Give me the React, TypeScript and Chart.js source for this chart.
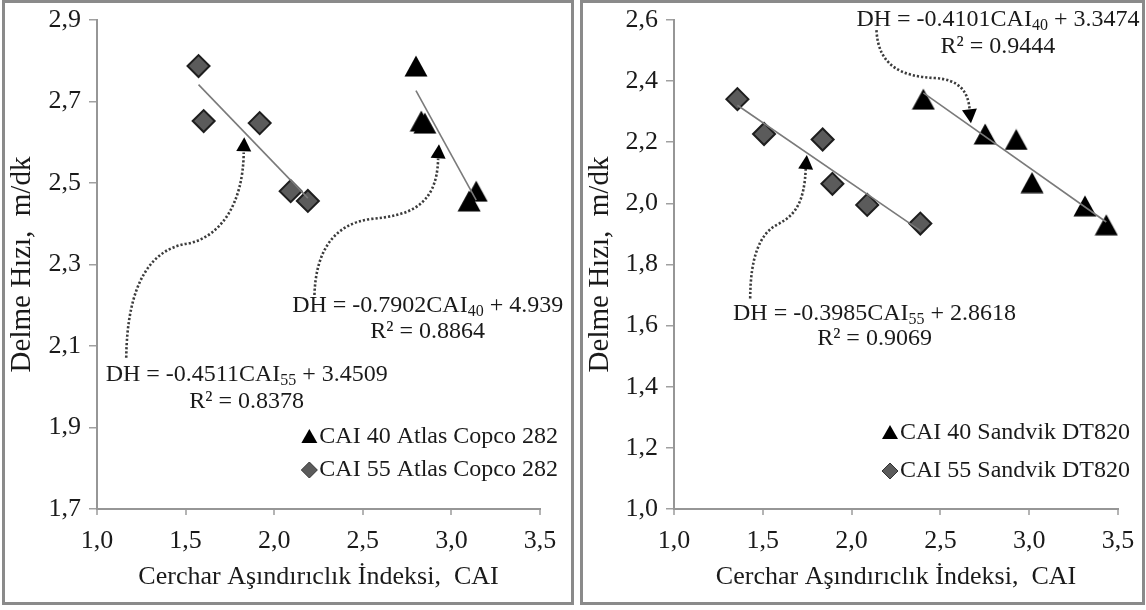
import React, { useEffect, useRef } from "react";
import { Chart, registerables } from "chart.js";

Chart.register(...registerables);

const SERIF = "'Liberation Serif', 'Times New Roman', serif";

// ---------- Left panel: Atlas Copco 282 ----------
const leftXTicks = [1.0, 1.5, 2.0, 2.5, 3.0, 3.5];
const leftYTicks = [1.7, 1.9, 2.1, 2.3, 2.5, 2.7, 2.9];
const leftCai40X = [2.8, 2.83, 2.85, 3.1, 3.14];
const leftCai40Y = [2.787, 2.652, 2.647, 2.456, 2.48];
const leftCai55X = [1.573, 1.602, 1.918, 2.093, 2.19];
const leftCai55Y = [2.787, 2.652, 2.647, 2.48, 2.456];
const leftFit40 = [-0.7902, 4.939];
const leftFit55 = [-0.4511, 3.4509];
const leftLegend = ["CAI 40 Atlas Copco 282", "CAI 55 Atlas Copco 282"];
const leftEq40 = ["DH = -0.7902CAI", "40", " + 4.939", "R² = 0.8864"];
const leftEq55 = ["DH = -0.4511CAI", "55", " + 3.4509", "R² = 0.8378"];

// ---------- Right panel: Sandvik DT820 ----------
const rightXTicks = [1.0, 1.5, 2.0, 2.5, 3.0, 3.5];
const rightYTicks = [1.0, 1.2, 1.4, 1.6, 1.8, 2.0, 2.2, 2.4, 2.6];
const rightCai40X = [2.404, 2.752, 2.927, 3.016, 3.314, 3.434];
const rightCai40Y = [2.341, 2.227, 2.209, 2.068, 1.992, 1.93];
const rightCai55X = [1.357, 1.507, 1.837, 1.892, 2.088, 2.387];
const rightCai55Y = [2.341, 2.227, 2.209, 2.064, 1.995, 1.934];
const rightFit40 = [-0.4101, 3.3474];
const rightFit55 = [-0.3985, 2.8618];
const rightLegend = ["CAI 40 Sandvik DT820", "CAI 55 Sandvik DT820"];
const rightEq40 = ["DH = -0.4101CAI", "40", " + 3.3474", "R² = 0.9444"];
const rightEq55 = ["DH = -0.3985CAI", "55", " + 2.8618", "R² = 0.9069"];

const xTitle = "Cerchar Aşındırıclık İndeksi,  CAI";
const yTitle = "Delme Hızı,  m/dk";

type P = [number, number];
interface Arrow { start: P; curves: [P, P, P][]; tip: P }
interface Eq { parts: string[]; x: number; y: number; y2: number }

interface PanelCfg {
  xTicks: number[]; yTicks: number[];
  x40: number[]; y40: number[]; x55: number[]; y55: number[];
  fit40: number[]; fit55: number[];
  legend: string[];
  eqs: Eq[];
  arrows: Arrow[];
  yWidth: number; padRight: number;
  legendDx: number; legendDy: number[];
}

const leftCfg: PanelCfg = {
  xTicks: leftXTicks, yTicks: leftYTicks,
  x40: leftCai40X, y40: leftCai40Y, x55: leftCai55X, y55: leftCai55Y,
  fit40: leftFit40, fit55: leftFit55, legend: leftLegend,
  eqs: [
    { parts: leftEq40, x: 2.866, y: 2.198, y2: 2.134 },
    { parts: leftEq55, x: 1.845, y: 2.029, y2: 1.963 },
  ],
  arrows: [
    { start: [2.227, 2.225], curves: [[[2.235, 2.33], [2.33, 2.4], [2.55, 2.412]], [[2.75, 2.42], [2.92, 2.44], [2.925, 2.56]]], tip: [2.93, 2.595] },
    { start: [1.165, 2.071], curves: [[[1.17, 2.25], [1.3, 2.34], [1.52, 2.352]], [[1.7, 2.37], [1.825, 2.45], [1.828, 2.575]]], tip: [1.831, 2.612] },
  ],
  yWidth: 92, padRight: 31, legendDx: 18, legendDy: [417, 450],
};

const rightCfg: PanelCfg = {
  xTicks: rightXTicks, yTicks: rightYTicks,
  x40: rightCai40X, y40: rightCai40Y, x55: rightCai55X, y55: rightCai55Y,
  fit40: rightFit40, fit55: rightFit55, legend: rightLegend,
  eqs: [
    { parts: rightEq40, x: 2.824, y: 2.6, y2: 2.513 },
    { parts: rightEq55, x: 2.129, y: 1.64, y2: 1.558 },
  ],
  arrows: [
    { start: [2.14, 2.567], curves: [[[2.15, 2.45], [2.28, 2.415], [2.47, 2.41]], [[2.6, 2.405], [2.66, 2.37], [2.665, 2.3]]], tip: [2.672, 2.262] },
    { start: [1.429, 1.689], curves: [[[1.43, 1.82], [1.48, 1.9], [1.58, 1.93]], [[1.68, 1.96], [1.735, 2.0], [1.742, 2.118]]], tip: [1.748, 2.158] },
  ],
  yWidth: 91, padRight: 24, legendDx: 12, legendDy: [413, 451],
};

const TEXT = "#1a1a1a";
const fmt = (v: number) => v.toFixed(1).replace(".", ",");
const zip = (xs: number[], ys: number[]) => xs.map((x, i) => ({ x, y: ys[i] }));
const fitLine = (xs: number[], f: number[]) => {
  const lo = Math.min(...xs), hi = Math.max(...xs);
  return [{ x: lo, y: f[0] * lo + f[1] }, { x: hi, y: f[0] * hi + f[1] }];
};

// Triangle marker whose bounding box is centred on the data point (like Excel)
function makeTriangleMarker(): HTMLCanvasElement {
  const c = document.createElement("canvas");
  c.width = 24;
  c.height = 22;
  const g = c.getContext("2d") as CanvasRenderingContext2D;
  g.fillStyle = "#000";
  g.beginPath();
  g.moveTo(12, 0.5);
  g.lineTo(23.5, 21.5);
  g.lineTo(0.5, 21.5);
  g.closePath();
  g.fill();
  return c;
}

function drawTriangle(ctx: CanvasRenderingContext2D, x: number, y: number, w: number, h: number) {
  ctx.beginPath();
  ctx.moveTo(x, y - h / 2);
  ctx.lineTo(x + w / 2, y + h / 2);
  ctx.lineTo(x - w / 2, y + h / 2);
  ctx.closePath();
  ctx.fill();
}

function makePlugin(cfg: PanelCfg) {
  return {
    id: "annot",
    afterDatasetsDraw(chart: any) {
      const ctx: CanvasRenderingContext2D = chart.ctx;
      const xs = chart.scales.x, ys = chart.scales.y;
      const px = (v: number) => xs.getPixelForValue(v);
      const py = (v: number) => ys.getPixelForValue(v);
      ctx.save();
      // dotted arrows
      for (const a of cfg.arrows) {
        ctx.beginPath();
        ctx.setLineDash([2.2, 2]);
        ctx.lineWidth = 2.6;
        ctx.strokeStyle = "#3c3c3c";
        ctx.moveTo(px(a.start[0]), py(a.start[1]));
        for (const c of a.curves) {
          ctx.bezierCurveTo(px(c[0][0]), py(c[0][1]), px(c[1][0]), py(c[1][1]), px(c[2][0]), py(c[2][1]));
        }
        ctx.stroke();
        ctx.setLineDash([]);
        const last = a.curves[a.curves.length - 1][2];
        const bx = px(last[0]), by = py(last[1]);
        const tx = px(a.tip[0]), ty = py(a.tip[1]);
        const dx = tx - bx, dy = ty - by;
        const len = Math.hypot(dx, dy) || 1;
        const ux = dx / len, uy = dy / len;
        const L = 14, W = 7.5;
        const cx = tx - ux * L, cy = ty - uy * L;
        ctx.fillStyle = "#000";
        ctx.beginPath();
        ctx.moveTo(tx, ty);
        ctx.lineTo(cx - uy * W, cy + ux * W);
        ctx.lineTo(cx + uy * W, cy - ux * W);
        ctx.closePath();
        ctx.fill();
      }
      // equations
      ctx.fillStyle = TEXT;
      ctx.textBaseline = "middle";
      ctx.textAlign = "left";
      const main = `24px ${SERIF}`;
      const sub = `16px ${SERIF}`;
      for (const e of cfg.eqs) {
        const [a, s, b, r2] = e.parts;
        ctx.font = main;
        const wa = ctx.measureText(a).width;
        const wb = ctx.measureText(b).width;
        ctx.font = sub;
        const ws = ctx.measureText(s).width;
        const total = wa + ws + wb;
        const x0 = px(e.x) - total / 2;
        const y0 = py(e.y);
        ctx.font = main;
        ctx.fillText(a, x0, y0);
        ctx.font = sub;
        ctx.fillText(s, x0 + wa, y0 + 6);
        ctx.font = main;
        ctx.fillText(b, x0 + wa + ws, y0);
        ctx.textAlign = "center";
        ctx.fillText(r2, px(e.x), py(e.y2));
        ctx.textAlign = "left";
      }
      // legend
      const ca = chart.chartArea;
      ctx.font = `24px ${SERIF}`;
      ctx.textAlign = "right";
      const right = ca.right + cfg.legendDx;
      cfg.legend.forEach((label: string, i: number) => {
        const y = ca.top + cfg.legendDy[i];
        ctx.fillStyle = TEXT;
        ctx.fillText(label, right, y);
        const w = ctx.measureText(label).width;
        const mx = right - w - 10;
        if (i === 0) {
          ctx.fillStyle = "#000";
          drawTriangle(ctx, mx, y - 1, 16, 14);
        } else {
          ctx.fillStyle = "#5b5b5b";
          ctx.strokeStyle = "#333";
          ctx.lineWidth = 1;
          ctx.beginPath();
          ctx.moveTo(mx, y - 8);
          ctx.lineTo(mx + 8, y);
          ctx.lineTo(mx, y + 8);
          ctx.lineTo(mx - 8, y);
          ctx.closePath();
          ctx.fill();
          ctx.stroke();
        }
      });
      ctx.restore();
    },
  };
}

function buildConfig(cfg: PanelCfg): any {
  const tri = makeTriangleMarker();
  return {
    type: "scatter",
    data: {
      datasets: [
        { label: cfg.legend[0], data: zip(cfg.x40, cfg.y40), pointStyle: tri, pointRadius: 12, backgroundColor: "#000", borderColor: "#000", borderWidth: 0, order: 2 },
        { label: cfg.legend[1], data: zip(cfg.x55, cfg.y55), pointStyle: "rectRot", pointRadius: 11, backgroundColor: "#5b5b5b", borderColor: "#1e1e1e", borderWidth: 2, order: 2 },
        { label: "fit40", data: fitLine(cfg.x40, cfg.fit40), showLine: true, pointRadius: 0, borderColor: "#7a7a7a", borderWidth: 1.6, order: 1 },
        { label: "fit55", data: fitLine(cfg.x55, cfg.fit55), showLine: true, pointRadius: 0, borderColor: "#7a7a7a", borderWidth: 1.6, order: 1 },
      ],
    },
    options: {
      responsive: false,
      animation: false,
      devicePixelRatio: 1,
      events: [],
      layout: { padding: { left: 0, top: 17, right: cfg.padRight, bottom: 0 } },
      plugins: { legend: { display: false }, tooltip: { enabled: false } },
      scales: {
        x: {
          type: "linear",
          min: cfg.xTicks[0],
          max: cfg.xTicks[cfg.xTicks.length - 1],
          afterBuildTicks: (s: any) => { s.ticks = cfg.xTicks.map((v) => ({ value: v })); },
          afterFit: (s: any) => { s.height = 93; s.paddingLeft = 0; s.paddingRight = 0; },
          grid: { display: true, drawOnChartArea: false, drawTicks: true, tickLength: 6, color: "#b4b4b4", lineWidth: 2 },
          border: { display: true, color: "#969696", width: 2 },
          ticks: { font: { family: SERIF, size: 26 }, color: TEXT, padding: 11, maxRotation: 0, callback: (v: any) => fmt(Number(v)) },
          title: { display: true, text: xTitle, font: { family: SERIF, size: 26 }, color: TEXT, padding: { top: 0, bottom: 9 } },
        },
        y: {
          type: "linear",
          min: cfg.yTicks[0],
          max: cfg.yTicks[cfg.yTicks.length - 1],
          afterBuildTicks: (s: any) => { s.ticks = cfg.yTicks.map((v) => ({ value: v })); },
          afterFit: (s: any) => { s.width = cfg.yWidth; s.paddingTop = 0; s.paddingBottom = 0; },
          grid: { display: true, drawOnChartArea: false, drawTicks: true, tickLength: 8, color: "#a0a0a0", lineWidth: 1.5 },
          border: { display: true, color: "#969696", width: 2 },
          ticks: { font: { family: SERIF, size: 26 }, color: TEXT, padding: 8, callback: (v: any) => fmt(Number(v)) },
          title: { display: true, text: yTitle, font: { family: SERIF, size: 29 }, color: TEXT, padding: { top: 0, bottom: 0 } },
        },
      },
    },
    plugins: [makePlugin(cfg)],
  };
}

function Panel({ cfg, left, width }: { cfg: PanelCfg; left: number; width: number }) {
  const ref = useRef<HTMLCanvasElement>(null);
  useEffect(() => {
    const chart = new Chart(ref.current as HTMLCanvasElement, buildConfig(cfg));
    return () => chart.destroy();
  }, [cfg]);
  const cw = width - 6;
  return (
    <div
      style={{
        position: "absolute",
        left,
        top: 0,
        width,
        height: 605,
        boxSizing: "border-box",
        border: "3px solid #8a8a8a",
        background: "#fff",
      }}
    >
      <canvas ref={ref} width={cw} height={599} style={{ display: "block", width: cw, height: 599 }} />
    </div>
  );
}

export default function App() {
  return (
    <div style={{ position: "fixed", left: 0, top: 0, width: 1146, height: 610, background: "#fff", overflow: "hidden" }}>
      <Panel cfg={leftCfg} left={2} width={572} />
      <Panel cfg={rightCfg} left={580} width={565} />
    </div>
  );
}
